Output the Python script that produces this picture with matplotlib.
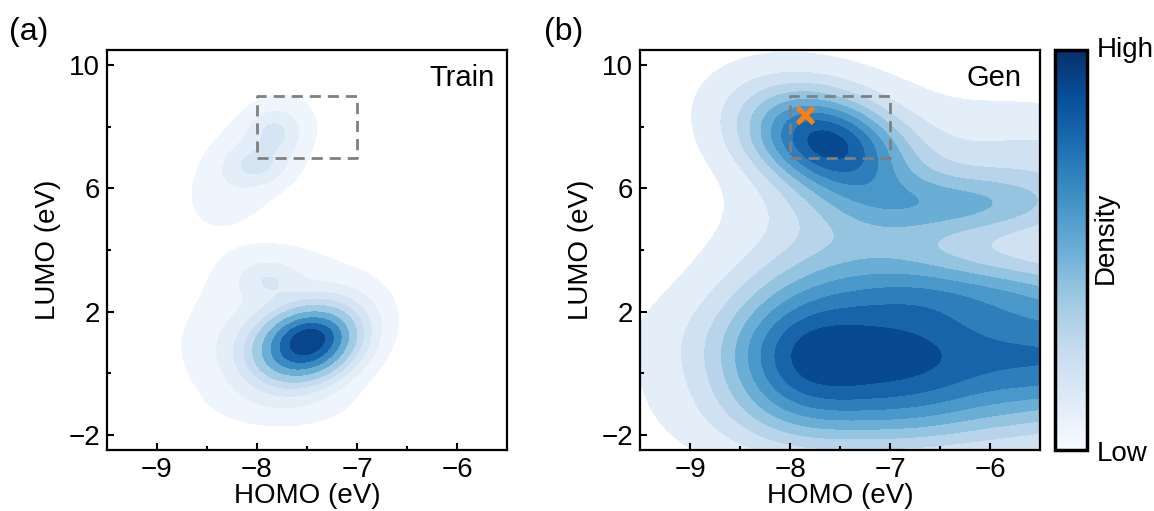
import numpy as np
import matplotlib
matplotlib.use("Agg")
import matplotlib.pyplot as plt
from matplotlib import cm, colors

plt.rcParams['font.family'] = ['Liberation Sans', 'DejaVu Sans']

# Gaussian pieces: centre x, centre y, sd x, sd y, corr, height
train_mx = [-7.50, -7.42, -8.10, -7.90, -7.80, -7.00, -7.82, -8.00, -8.05, -7.70]
train_my = [0.95, 1.25, 0.80, 3.05, 3.00, 2.20, 7.85, 6.75, 6.90, -1.00]
train_sx = [0.33, 0.18, 0.45, 0.20, 0.50, 0.30, 0.17, 0.20, 0.40, 0.50]
train_sy = [0.80, 0.30, 1.10, 0.40, 1.00, 0.80, 0.50, 0.40, 1.30, 0.60]
train_r = [0.20, 0.00, 0.00, 0.00, 0.00, 0.00, 0.00, 0.00, 0.55, 0.00]
train_w = [1.00, 0.08, 0.09, 0.10, 0.06, 0.035, 0.12, 0.10, 0.10, 0.05]

gen_mx = [-7.85, -6.80, -5.30, -6.60, -7.65, -6.20, -7.30, -6.00, -5.30, -9.00, -6.50]
gen_my = [0.60, 0.60, 0.55, -1.40, 7.50, 5.50, 4.00, 2.60, 7.00, 1.00, 4.00]
gen_sx = [0.60, 0.50, 1.40, 1.30, 0.55, 0.90, 0.70, 1.00, 0.90, 0.60, 1.00]
gen_sy = [1.70, 1.70, 1.30, 1.00, 1.20, 0.70, 1.30, 0.80, 1.00, 1.20, 3.00]
gen_r = [0.00, 0.00, 0.00, 0.00, -0.30, 0.00, 0.00, 0.00, 0.00, 0.00, 0.00]
gen_w = [0.80, 0.30, 0.80, 0.25, 1.00, 0.36, 0.21, 0.30, 0.15, 0.05, 0.14]

# contour levels (share of the peak) and the Blues shade of each band
train_levels = [0.03, 0.088, 0.156, 0.234, 0.321, 0.447, 0.583, 0.728, 0.874, 1.0]
train_shades = [0.05, 0.10, 0.17, 0.25, 0.37, 0.50, 0.65, 0.80, 0.92]
gen_levels = list(np.linspace(0.05, 1.0, 10))
gen_shades = list(np.linspace(0.10, 0.90, 9))

box_x = [-8, -7]
box_y = [7, 9]
best_x, best_y = -7.85, 8.4


def mixture(xx, yy, mx, my, sx, sy, r, w):
    z = np.zeros_like(xx)
    for i in range(len(mx)):
        dx = (xx - mx[i]) / sx[i]
        dy = (yy - my[i]) / sy[i]
        q = (dx**2 - 2 * r[i] * dx * dy + dy**2) / (1 - r[i]**2)
        z += w[i] * np.exp(-0.5 * q)
    return z / z.max()


gx = np.linspace(-11, -4, 300)
gy = np.linspace(-5, 13, 300)
xx, yy = np.meshgrid(gx, gy)
blues = plt.get_cmap('Blues')

fig = plt.figure(figsize=(11.54, 5.11), dpi=100)
ax1 = fig.add_axes([107 / 1154, 61 / 511, 400 / 1154, 400 / 511])
ax2 = fig.add_axes([640 / 1154, 61 / 511, 400 / 1154, 400 / 511])
cax = fig.add_axes([1055 / 1154, 61 / 511, 32 / 1154, 400 / 511])

panels = [(ax1, (train_mx, train_my, train_sx, train_sy, train_r, train_w),
           train_levels, train_shades, 'Train', 0.97, '(a)', 9),
          (ax2, (gen_mx, gen_my, gen_sx, gen_sy, gen_r, gen_w),
           gen_levels, gen_shades, 'Gen', 0.955, '(b)', 544)]

for ax, comp, lv, shades, name, tx, tag, tagx in panels:
    z = mixture(xx, yy, *comp)
    ax.contourf(xx, yy, z, levels=lv, colors=[blues(s) for s in shades])
    ax.plot([box_x[0], box_x[1], box_x[1], box_x[0], box_x[0]],
            [box_y[0], box_y[0], box_y[1], box_y[1], box_y[0]],
            ls='--', color='grey', lw=2, dashes=(4, 2.5))
    ax.set_xlim(-9.5, -5.5)
    ax.set_ylim(-2.5, 10.5)
    ax.set_xticks([-9, -8, -7, -6])
    ax.set_xticks([-8.5, -7.5, -6.5], minor=True)
    ax.set_yticks([-2, 2, 6, 10])
    ax.set_yticks([0, 4, 8], minor=True)
    ax.tick_params(which='both', direction='in', labelsize=20, width=1.5, pad=5)
    ax.tick_params(which='major', length=5)
    ax.tick_params(which='minor', length=3)
    for s in ax.spines.values():
        s.set_linewidth(1.6)
    ax.set_xlabel('HOMO (eV)', fontsize=20, labelpad=0)
    ax.set_ylabel('LUMO (eV)', fontsize=20, labelpad=5)
    ax.text(tx, 0.93, name, transform=ax.transAxes, ha='right', va='center', fontsize=21)
    fig.text(tagx / 1154, 1 - 32 / 511, tag, ha='left', va='center', fontsize=23)

ax2.plot(best_x, best_y, marker='x', color='#ff7f0e', ms=12, mew=3.5)

sm = cm.ScalarMappable(norm=colors.Normalize(0, 1), cmap='Blues')
cb = fig.colorbar(sm, cax=cax)
cb.set_ticks([])
cb.outline.set_linewidth(2.5)
cax.text(1.3, 1.0, 'High', transform=cax.transAxes, ha='left', va='center', fontsize=20)
cax.text(1.3, -0.01, 'Low', transform=cax.transAxes, ha='left', va='center', fontsize=20)
cax.text(1.6, 0.53, 'Density', transform=cax.transAxes, ha='center', va='center',
         rotation=90, fontsize=20)

fig.savefig('out.png', dpi=100)
